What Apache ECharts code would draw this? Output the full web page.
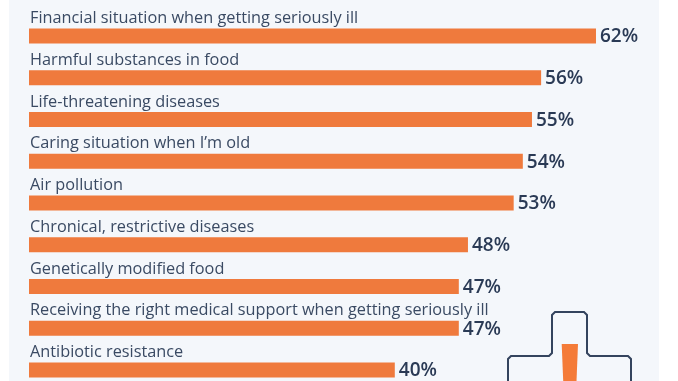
<!DOCTYPE html>
<html>
<head>
<meta charset="utf-8">
<script src="https://cdn.jsdelivr.net/npm/echarts@6/dist/echarts.min.js"></script>
<style>
  html, body { margin: 0; padding: 0; background: #fff; overflow: hidden; height: 381px; }
  #chart { width: 678px; height: 420px; }
</style>
</head>
<body>
<div id="chart"></div>
<script>
var categories = [
    'Financial situation when getting seriously ill',
    'Harmful substances in food',
    'Life-threatening diseases',
    'Caring situation when I\u2019m old',
    'Air pollution',
    'Chronical, restrictive diseases',
    'Genetically modified food',
    'Receiving the right medical support when getting seriously ill',
    'Antibiotic resistance'
];
var values = [62, 56, 55, 54, 53, 48, 47, 47, 40];

var myChart = echarts.init(document.getElementById('chart'));

var option = {
    animation: false,
    textStyle: { fontFamily: '"Open Sans"' },
    graphic: [
        // panel behind the chart
        { type: 'rect', z: -10, shape: { x: 9, y: 0, width: 650, height: 420 }, style: { fill: '#f4f7fb' } },
        // cross icon
        {
            type: 'polyline', z: 10,
            shape: { points: [[508, 400], [508, 359], [511, 356], [549, 356], [552, 353], [552, 315], [555, 312], [584, 312], [587, 315], [587, 353], [590, 356], [628, 356], [631, 359], [631, 400]] },
            style: { stroke: '#34445e', lineWidth: 2, fill: null }
        },
        {
            type: 'polygon', z: 10,
            shape: { points: [[561.7, 344], [578, 344], [576.5, 381], [563.2, 381]] },
            style: { fill: '#f47b38' }
        }
    ],
    grid: { left: 29, top: 15.1, width: 9.145 * 70, height: 375.75 },
    xAxis: { type: 'value', min: 0, max: 70, show: false },
    yAxis: {
        type: 'category',
        inverse: true,
        data: categories,
        axisLine: { show: false },
        axisTick: { show: false },
        axisLabel: { show: false }
    },
    series: [{
        type: 'bar',
        data: values,
        barWidth: 15,
        barGap: '-100%',
        itemStyle: { color: '#ef7a3d' },
        label: {
            show: true,
            position: 'right',
            distance: 4,
            offset: [0, 1],
            formatter: '{c}%',
            color: '#2a3a55',
            fontSize: 19,
            fontWeight: 600,
            fontFamily: '"Open Sans"'
        }
    }, {
        // invisible copy, only carries the category text above each bar
        type: 'bar',
        data: values,
        barWidth: 15,
        barGap: '-100%',
        itemStyle: { color: 'transparent' },
        label: {
            show: true,
            position: 'insideLeft',
            distance: 1,
            offset: [0, -17.5],
            formatter: '{b}',
            color: '#3a4a63',
            fontSize: 16.3,
            fontFamily: '"Open Sans"'
        }
    }]
};

myChart.setOption(option);
</script>
</body>
</html>
